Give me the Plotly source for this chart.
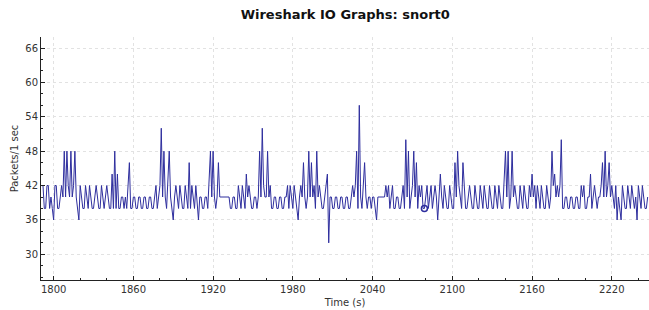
import plotly.graph_objects as go

start_time = 1791
packets = [
    42, 42, 38, 38, 42, 42, 38, 40, 38, 36,   # 1791-1800
    42, 42, 38, 38, 40, 42, 40, 48, 40, 48,   # 1801-1810
    42, 40, 48, 40, 42, 48, 40, 38, 36, 42,   # 1811-1820
    40, 38, 38, 42, 40, 38, 42, 40, 38, 38,   # 1821-1830
    40, 42, 40, 38, 38, 42, 40, 38, 40, 42,   # 1831-1840
    40, 38, 38, 44, 38, 48, 38, 44, 38, 38,   # 1841-1850
    40, 40, 38, 40, 38, 42, 46, 38, 38, 40,   # 1851-1860
    40, 38, 38, 40, 40, 38, 38, 40, 40, 38,   # 1861-1870
    38, 40, 40, 38, 38, 40, 42, 38, 40, 42,   # 1871-1880
    52, 40, 48, 40, 38, 42, 48, 40, 38, 36,   # 1881-1890
    40, 42, 40, 38, 42, 40, 38, 38, 42, 40,   # 1891-1900
    38, 46, 38, 42, 40, 38, 42, 38, 36, 40,   # 1901-1910
    40, 38, 38, 40, 40, 38, 42, 48, 40, 48,   # 1911-1920
    40, 38, 40, 46, 40, 40, 40, 40, 40, 40,   # 1921-1930
    40, 40, 38, 38, 40, 40, 38, 38, 42, 40,   # 1931-1940
    38, 42, 40, 38, 44, 40, 42, 40, 38, 38,   # 1941-1950
    40, 40, 38, 40, 48, 40, 52, 42, 40, 40,   # 1951-1960
    48, 40, 42, 38, 38, 40, 40, 38, 38, 40,   # 1961-1970
    40, 38, 38, 40, 40, 42, 38, 42, 40, 38,   # 1971-1980
    42, 40, 38, 36, 40, 42, 40, 46, 40, 38,   # 1981-1990
    40, 48, 40, 46, 40, 42, 38, 48, 40, 42,   # 1991-2000
    40, 38, 38, 40, 42, 44, 32, 40, 40, 38,   # 2001-2010
    38, 40, 40, 38, 38, 40, 40, 38, 38, 40,   # 2011-2020
    40, 38, 38, 40, 42, 40, 42, 48, 38, 56,   # 2021-2030
    40, 38, 42, 46, 40, 38, 40, 40, 38, 40,   # 2031-2040
    40, 38, 36, 40, 40, 40, 40, 40, 40, 42,   # 2041-2050
    40, 42, 38, 40, 42, 38, 38, 40, 40, 38,   # 2051-2060
    38, 40, 42, 38, 50, 40, 48, 38, 40, 42,   # 2061-2070
    48, 40, 46, 38, 42, 40, 42, 38, 38, 40,   # 2071-2080
    42, 38, 40, 42, 38, 40, 42, 40, 36, 40,   # 2081-2090
    44, 40, 38, 42, 40, 38, 38, 42, 40, 38,   # 2091-2100
    38, 46, 40, 48, 42, 40, 38, 46, 42, 38,   # 2101-2110
    38, 40, 42, 40, 38, 38, 42, 40, 38, 38,   # 2111-2120
    42, 40, 38, 42, 40, 38, 38, 42, 40, 38,   # 2121-2130
    38, 42, 40, 38, 42, 40, 38, 38, 44, 48,   # 2131-2140
    40, 48, 38, 40, 48, 40, 42, 40, 38, 38,   # 2141-2150
    42, 40, 38, 42, 40, 38, 38, 42, 40, 44,   # 2151-2160
    40, 42, 38, 42, 40, 38, 42, 40, 38, 38,   # 2161-2170
    42, 40, 38, 40, 48, 42, 44, 40, 42, 40,   # 2171-2180
    42, 50, 38, 38, 40, 40, 38, 38, 40, 40,   # 2181-2190
    38, 38, 40, 40, 38, 38, 42, 40, 42, 38,   # 2191-2200
    38, 40, 40, 44, 38, 40, 42, 40, 38, 40,   # 2201-2210
    40, 42, 46, 40, 48, 40, 42, 46, 40, 42,   # 2211-2220
    40, 38, 42, 36, 40, 38, 36, 42, 40, 38,   # 2221-2230
    38, 42, 40, 38, 42, 40, 38, 40, 36, 42,   # 2231-2240
    40, 38, 42, 40, 38, 38, 40,               # 2241-2247
]
times = [start_time + i for i in range(len(packets))]

marker_time = [2079]
marker_value = [38]

x_ticks = [1800, 1860, 1920, 1980, 2040, 2100, 2160, 2220]
y_ticks = [30, 36, 42, 48, 54, 60, 66]

line_color = "#2e2e9e"

fig = go.Figure()
fig.add_trace(go.Scatter(
    x=times, y=packets, mode="lines",
    line=dict(color=line_color, width=1),
    hoverinfo="x+y", showlegend=False,
))
fig.add_trace(go.Scatter(
    x=marker_time, y=marker_value, mode="markers",
    marker=dict(symbol="circle-open", size=6, color=line_color, line=dict(width=1.5, color=line_color)),
    showlegend=False,
))

axis_common = dict(
    showline=True, linecolor="#222", linewidth=1,
    ticks="inside", ticklen=4, tickcolor="#222", tickwidth=1,
    showgrid=True, gridcolor="#e2e2e2", griddash="dot", gridwidth=1,
    zeroline=False, mirror=False, automargin=False,
    tickfont=dict(family="DejaVu Sans", size=10, color="#333"),
)

fig.update_xaxes(
    range=[1790.5, 2248], tickvals=x_ticks, ticktext=[str(v) for v in x_ticks],
    minor=dict(dtick=20, tick0=1800, ticks="inside", ticklen=2, tickcolor="#222", showgrid=False),
    title=dict(text="Time (s)", font=dict(family="DejaVu Sans", size=10, color="#333"), standoff=4),
    **axis_common,
)
fig.update_yaxes(
    range=[25.52, 67.92], tickvals=y_ticks, ticktext=[str(v) for v in y_ticks],
    minor=dict(dtick=2, tick0=30, ticks="inside", ticklen=2, tickcolor="#222", showgrid=False),
    title=dict(text="Packets/1 sec", font=dict(family="DejaVu Sans", size=10, color="#333"), standoff=4),
    **axis_common,
)

fig.update_layout(
    width=649, height=310,
    margin=dict(l=41, r=0, t=37, b=30),
    paper_bgcolor="white", plot_bgcolor="white",
    hovermode=False,
    title=dict(text="<b>Wireshark IO Graphs: snort0</b>", x=0.532, xanchor="center", y=0.955, yanchor="middle",
               font=dict(family="DejaVu Sans", size=13, color="#111")),
)

fig.write_html(
    "out.html",
    config={"displayModeBar": False},
    post_script="document.body.style.margin='0';document.body.style.overflow='hidden';",
)
